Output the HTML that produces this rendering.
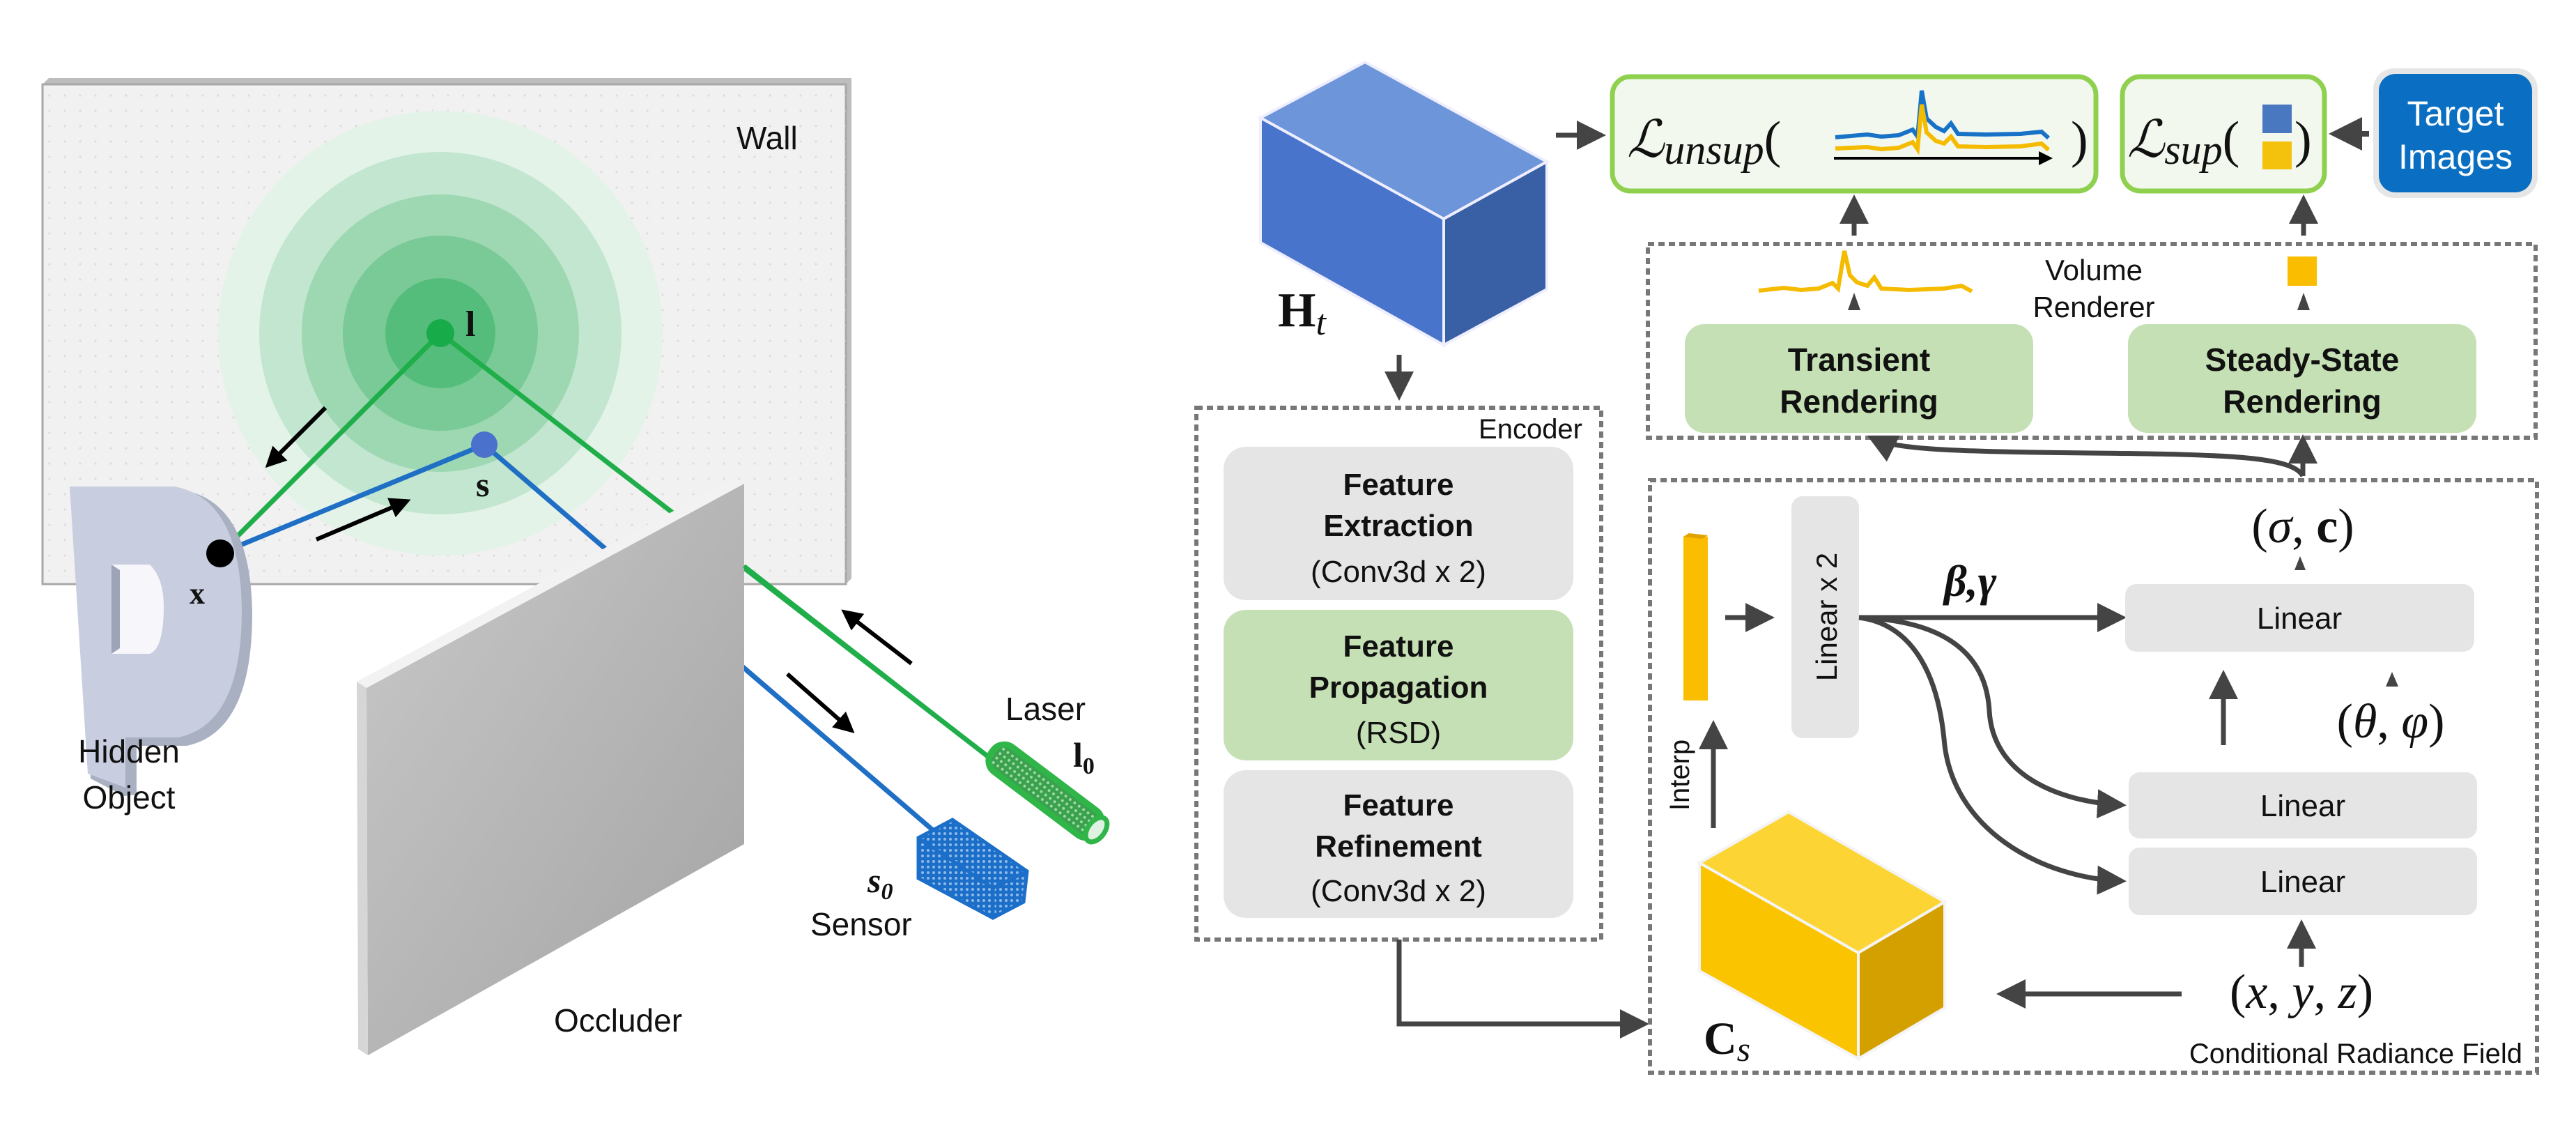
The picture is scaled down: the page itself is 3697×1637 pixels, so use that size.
<!DOCTYPE html>
<html><head><meta charset="utf-8"><style>
html,body{margin:0;padding:0;background:#fff}
svg{display:block}
.s{font-family:"Liberation Sans",sans-serif}
.m{font-family:"Liberation Serif","DejaVu Serif",serif;font-style:italic}
</style></head><body>
<svg width="3697" height="1637" viewBox="0 0 3697 1637" xmlns="http://www.w3.org/2000/svg">
<defs>
<marker id="ah" markerWidth="6" markerHeight="6" refX="5" refY="3" orient="auto" markerUnits="strokeWidth">
<path d="M0,0 L6,3 L0,6 z" fill="#444"/></marker>
<marker id="bh" markerWidth="5" markerHeight="5" refX="4" refY="2.5" orient="auto" markerUnits="strokeWidth">
<path d="M0,0 L5,2.5 L0,5 z" fill="#000"/></marker>
<pattern id="dots" width="22" height="22" patternUnits="userSpaceOnUse"><circle cx="5" cy="5" r="1.6" fill="#dcdcdc"/></pattern>
<pattern id="mesh" width="8" height="8" patternUnits="userSpaceOnUse"><rect width="8" height="8" fill="#3aa14c"/><circle cx="4" cy="4" r="2" fill="#9fd9a8"/></pattern>
<pattern id="meshb" width="8" height="8" patternUnits="userSpaceOnUse"><rect width="8" height="8" fill="#1c6fc9"/><circle cx="4" cy="4" r="2" fill="#8fb9e8"/></pattern>
<linearGradient id="occ" x1="0" y1="0" x2="1" y2="1"><stop offset="0" stop-color="#c9c9c9"/><stop offset="1" stop-color="#a3a3a3"/></linearGradient>
</defs>

<!-- ============ LEFT SCENE ============ -->
<polygon points="61,121 70,112 1222,112 1222,830 1214,838" fill="#bdbdbd"/>
<rect x="61" y="121" width="1153" height="717" fill="#f1f1f1" stroke="#a8a8a8" stroke-width="3"/>
<rect x="61" y="121" width="1153" height="717" fill="url(#dots)"/>
<text x="1057" y="214" class="s" font-size="46" fill="#111">Wall</text>
<circle cx="632" cy="478" r="319" fill="#e3f3e8"/>
<circle cx="632" cy="478" r="260" fill="#c2e6cf"/>
<circle cx="632" cy="478" r="199" fill="#9ed8b2"/>
<circle cx="632" cy="478" r="140" fill="#79ca96"/>
<circle cx="632" cy="478" r="79" fill="#55bd7b"/>
<line x1="632" y1="478" x2="316" y2="794" stroke="#1fae4a" stroke-width="7"/>
<line x1="632" y1="478" x2="1420" y2="1087" stroke="#1fae4a" stroke-width="7"/>
<line x1="316" y1="794" x2="695" y2="638" stroke="#1f6fc5" stroke-width="7"/>
<line x1="695" y1="638" x2="1340" y2="1192" stroke="#1f6fc5" stroke-width="7"/>
<circle cx="632" cy="478" r="20" fill="#17ab4a"/>
<circle cx="695" cy="638" r="19" fill="#4a72cc"/>
<text x="668" y="482" font-family="Liberation Serif,serif" font-weight="bold" font-size="52" fill="#111">l</text>
<text x="683" y="712" font-family="Liberation Serif,serif" font-weight="bold" font-size="50" fill="#111">s</text>
<line x1="467" y1="585" x2="385" y2="667" stroke="#000" stroke-width="6" marker-end="url(#bh)"/>
<line x1="454" y1="774" x2="584" y2="719" stroke="#000" stroke-width="6" marker-end="url(#bh)"/>
<path d="M105,703 L262,703 Q360,720 362,880 Q362,1050 268,1070 L196,1070 L196,1140 L178,1142 L130,1117 Z" fill="#a9b0c2"/>
<path d="M100,698 L250,698 Q345,715 347,875 Q347,1040 255,1058 L180,1058 L180,1130 L126,1110 Z" fill="#c8cee0"/>
<path d="M160,810 L215,810 Q235,830 235,870 Q235,930 215,938 L160,938 Z" fill="#f7f7fb"/>
<path d="M160,810 L172,818 L172,930 L160,938 Z" fill="#9da4b6"/>
<circle cx="316" cy="794" r="20" fill="#000"/>
<text x="272" y="866" font-family="Liberation Serif,serif" font-weight="bold" font-size="44" fill="#111">x</text>
<text x="185" y="1094" class="s" font-size="46" text-anchor="middle" fill="#111">Hidden</text>
<text x="185" y="1160" class="s" font-size="46" text-anchor="middle" fill="#111">Object</text>
<polygon points="526,987 1068,694 1068,1211 528,1514" fill="url(#occ)"/>
<polygon points="512,978 1054,686 1068,694 526,987" fill="#f2f2f2"/>
<polygon points="512,978 526,987 528,1514 514,1505" fill="#d6d6d6"/>
<text x="887" y="1480" class="s" font-size="46" text-anchor="middle" fill="#111">Occluder</text>
<line x1="1071" y1="962" x2="1340" y2="1192" stroke="#1f6fc5" stroke-width="6"/>
<line x1="1068" y1="812" x2="1420" y2="1087" stroke="#1fae4a" stroke-width="6"/>
<line x1="1308" y1="952" x2="1212" y2="878" stroke="#000" stroke-width="6" marker-end="url(#bh)"/>
<line x1="1130" y1="967" x2="1222" y2="1048" stroke="#000" stroke-width="6" marker-end="url(#bh)"/>
<g transform="translate(1500,1135) rotate(37)">
<rect x="-95" y="-22" width="190" height="44" rx="20" fill="url(#mesh)" stroke="#2fb548" stroke-width="9"/>
<ellipse cx="92" cy="0" rx="12" ry="20" fill="#dff2e2" stroke="#2fb548" stroke-width="7"/>
</g>
<text x="1443" y="1033" class="s" font-size="46" fill="#111">Laser</text>
<text x="1540" y="1100" font-family="Liberation Serif,serif" font-weight="bold" font-size="50" fill="#111">l<tspan font-size="34" dy="10">0</tspan></text>
<polygon points="1318,1202 1367,1176 1474,1250 1469,1294 1425,1317 1318,1260" fill="url(#meshb)" stroke="#1c6fc9" stroke-width="5"/>
<polyline points="1318,1202 1425,1274 1474,1250" fill="none" stroke="#1c6fc9" stroke-width="5"/>
<line x1="1425" y1="1274" x2="1425" y2="1317" stroke="#1c6fc9" stroke-width="5"/>
<text x="1245" y="1280" font-family="Liberation Serif,serif" font-style="italic" font-weight="bold" font-size="50" fill="#111">s<tspan font-size="34" dy="10">0</tspan></text>
<text x="1163" y="1342" class="s" font-size="46" fill="#111">Sensor</text>

<!-- ============ RIGHT PIPELINE ============ -->
<polygon points="1809,169 1959,89 2220,232 2072,314" fill="#6d95d9" stroke="#eef" stroke-width="4"/>
<polygon points="1809,169 2072,314 2072,495 1809,348" fill="#4874cb" stroke="#eef" stroke-width="4"/>
<polygon points="2072,314 2220,232 2220,415 2072,495" fill="#395fa5" stroke="#eef" stroke-width="4"/>
<text x="1834" y="468" font-family="Liberation Serif,serif" font-weight="bold" font-size="70" fill="#111">H<tspan font-style="italic" font-weight="normal" font-size="52" dy="12">t</tspan></text>
<line x1="2233" y1="194" x2="2298" y2="194" stroke="#444" stroke-width="7" marker-end="url(#ah)"/>
<line x1="2008" y1="509" x2="2008" y2="568" stroke="#444" stroke-width="7" marker-end="url(#ah)"/>

<rect x="2314" y="110" width="694" height="164" rx="26" fill="#f2f8ee" stroke="#8fd14f" stroke-width="7"/>
<text x="2335" y="225" class="m" font-size="74" fill="#111">ℒ<tspan font-size="60" dy="10">unsup</tspan><tspan dy="-10" font-style="normal" font-size="74">(</tspan></text>
<polyline points="2634,197 2680,193 2700,196 2725,194 2745,186 2752,196 2758,130 2765,170 2778,182 2790,188 2800,177 2810,192 2850,193 2900,192 2930,189 2940,198" fill="none" stroke="#1873c8" stroke-width="6"/>
<polyline points="2634,213 2680,211 2700,214 2725,212 2745,204 2752,214 2758,150 2765,190 2778,202 2790,206 2800,196 2810,210 2850,211 2900,210 2930,206 2940,215" fill="none" stroke="#f5bb00" stroke-width="6"/>
<line x1="2632" y1="227" x2="2942" y2="227" stroke="#000" stroke-width="4" marker-end="url(#bh)"/>
<text x="2972" y="225" font-family="Liberation Serif,serif" font-size="74" fill="#111">)</text>

<rect x="3046" y="110" width="290" height="164" rx="26" fill="#f2f8ee" stroke="#8fd14f" stroke-width="7"/>
<text x="3053" y="225" class="m" font-size="74" fill="#111">ℒ<tspan font-size="60" dy="10">sup</tspan><tspan dy="-10" font-style="normal" font-size="74">(</tspan></text>
<rect x="3247" y="150" width="42" height="41" fill="#4a78c0"/>
<rect x="3247" y="203" width="42" height="40" fill="#f4c20d"/>
<text x="3293" y="225" font-family="Liberation Serif,serif" font-size="74" fill="#111">)</text>

<rect x="3406" y="98" width="236" height="186" rx="30" fill="#e6e6e6"/>
<rect x="3414" y="106" width="220" height="170" rx="24" fill="#0a6fc2"/>
<text x="3524" y="180" class="s" font-size="50" text-anchor="middle" fill="#fff">Target</text>
<text x="3524" y="242" class="s" font-size="50" text-anchor="middle" fill="#fff">Images</text>
<line x1="3400" y1="192" x2="3350" y2="192" stroke="#444" stroke-width="8" marker-end="url(#ah)"/>

<rect x="2365" y="350" width="1274" height="278" fill="none" stroke="#777" stroke-width="6" stroke-dasharray="9 6"/>
<line x1="2661" y1="338" x2="2661" y2="286" stroke="#444" stroke-width="7" marker-end="url(#ah)"/>
<line x1="3306" y1="338" x2="3306" y2="286" stroke="#444" stroke-width="7" marker-end="url(#ah)"/>
<polyline points="2524,417 2560,413 2585,416 2610,414 2630,406 2638,414 2647,360 2655,395 2665,405 2680,410 2690,398 2700,414 2740,416 2790,414 2815,410 2830,418" fill="none" stroke="#f5bb00" stroke-width="6"/>
<polygon points="2661,420 2670,445 2652,445" fill="#444"/>
<rect x="3283" y="368" width="42" height="42" fill="#fbbd00"/>
<polygon points="3306,420 3315,445 3297,445" fill="#444"/>
<text x="3005" y="402" class="s" font-size="42" text-anchor="middle" fill="#111">Volume</text>
<text x="3005" y="455" class="s" font-size="42" text-anchor="middle" fill="#111">Renderer</text>
<rect x="2418" y="465" width="500" height="156" rx="28" fill="#c5e0b4"/>
<rect x="3054" y="465" width="500" height="156" rx="28" fill="#c5e0b4"/>
<text x="2668" y="532" class="s" font-weight="bold" font-size="46" text-anchor="middle" fill="#111">Transient</text>
<text x="2668" y="592" class="s" font-weight="bold" font-size="46" text-anchor="middle" fill="#111">Rendering</text>
<text x="3304" y="532" class="s" font-weight="bold" font-size="46" text-anchor="middle" fill="#111">Steady-State</text>
<text x="3304" y="592" class="s" font-weight="bold" font-size="46" text-anchor="middle" fill="#111">Rendering</text>

<path d="M3305,683 C3290,655 3200,652 3000,650 C2800,648 2720,645 2686,628" fill="none" stroke="#444" stroke-width="7" marker-end="url(#ah)"/>
<line x1="3305" y1="683" x2="3305" y2="630" stroke="#444" stroke-width="7" marker-end="url(#ah)"/>

<rect x="1717" y="585" width="581" height="763" fill="none" stroke="#777" stroke-width="6" stroke-dasharray="9 6"/>
<text x="2271" y="629" class="s" font-size="40" text-anchor="end" fill="#111">Encoder</text>
<rect x="1756" y="641" width="502" height="220" rx="32" fill="#e5e5e5"/>
<rect x="1756" y="875" width="502" height="216" rx="32" fill="#c5e0b4"/>
<rect x="1756" y="1105" width="502" height="212" rx="32" fill="#e5e5e5"/>
<g class="s" font-size="44" text-anchor="middle" fill="#111">
<text x="2007" y="710" font-weight="bold">Feature</text>
<text x="2007" y="769" font-weight="bold">Extraction</text>
<text x="2007" y="835">(Conv3d x 2)</text>
<text x="2007" y="942" font-weight="bold">Feature</text>
<text x="2007" y="1001" font-weight="bold">Propagation</text>
<text x="2007" y="1066">(RSD)</text>
<text x="2007" y="1170" font-weight="bold">Feature</text>
<text x="2007" y="1229" font-weight="bold">Refinement</text>
<text x="2007" y="1293">(Conv3d x 2)</text>
</g>
<polyline points="2008,1348 2008,1469 2360,1469" fill="none" stroke="#444" stroke-width="7" marker-end="url(#ah)"/>

<rect x="2368" y="689" width="1273" height="850" fill="none" stroke="#777" stroke-width="6" stroke-dasharray="9 6"/>
<text x="3620" y="1525" class="s" font-size="40" text-anchor="end" fill="#111">Conditional Radiance Field</text>
<polygon points="2416,770 2424,765 2451,770 2451,1005 2416,1005" fill="#fbbd00"/>
<polygon points="2416,770 2424,765 2451,768 2443,773" fill="#e0a400"/>
<line x1="2476" y1="886" x2="2540" y2="886" stroke="#444" stroke-width="7" marker-end="url(#ah)"/>
<rect x="2571" y="712" width="97" height="347" rx="16" fill="#e5e5e5"/>
<text transform="translate(2636,885) rotate(-90)" class="s" font-size="42" text-anchor="middle" fill="#111">Linear x 2</text>
<text x="2790" y="855" font-family="Liberation Serif,serif" font-style="italic" font-weight="bold" font-size="64" fill="#111">β,γ</text>
<line x1="2668" y1="886" x2="3045" y2="886" stroke="#444" stroke-width="7" marker-end="url(#ah)"/>
<path d="M2668,886 C2780,890 2850,930 2855,1020 C2860,1110 2950,1150 3045,1155" fill="none" stroke="#444" stroke-width="7" marker-end="url(#ah)"/>
<path d="M2668,886 C2740,895 2780,960 2790,1060 C2800,1190 2930,1260 3045,1264" fill="none" stroke="#444" stroke-width="7" marker-end="url(#ah)"/>
<rect x="3050" y="838" width="501" height="97" rx="16" fill="#e5e5e5"/>
<rect x="3055" y="1108" width="500" height="95" rx="16" fill="#e5e5e5"/>
<rect x="3055" y="1216" width="500" height="97" rx="16" fill="#e5e5e5"/>
<g class="s" font-size="44" text-anchor="middle" fill="#111">
<text x="3300" y="902">Linear</text>
<text x="3305" y="1171">Linear</text>
<text x="3305" y="1280">Linear</text>
</g>
<text x="3305" y="778" font-family="Liberation Serif,serif" font-size="70" text-anchor="middle" fill="#111">(<tspan font-style="italic">σ</tspan>, <tspan font-weight="bold">c</tspan>)</text>
<polygon points="3301,798 3309,818 3293,818" fill="#444"/>
<line x1="3191" y1="1069" x2="3191" y2="968" stroke="#444" stroke-width="7" marker-end="url(#ah)"/>
<polygon points="3433,964 3442,985 3424,985" fill="#444"/>
<text x="3431" y="1058" font-family="Liberation Serif,serif" font-size="70" text-anchor="middle" fill="#111">(<tspan font-style="italic">θ</tspan>, <tspan font-style="italic">φ</tspan>)</text>
<line x1="3303" y1="1387" x2="3303" y2="1326" stroke="#444" stroke-width="7" marker-end="url(#ah)"/>
<text x="3303" y="1446" font-family="Liberation Serif,serif" font-size="70" text-anchor="middle" fill="#111">(<tspan font-style="italic">x</tspan>, <tspan font-style="italic">y</tspan>, <tspan font-style="italic">z</tspan>)</text>
<line x1="3131" y1="1426" x2="2872" y2="1426" stroke="#444" stroke-width="7" marker-end="url(#ah)"/>
<polygon points="2439,1238 2567,1165 2791,1294 2667,1367" fill="#fcd535" stroke="#f4f4f4" stroke-width="4"/>
<polygon points="2439,1238 2667,1367 2667,1519 2439,1393" fill="#fbc400" stroke="#f4f4f4" stroke-width="4"/>
<polygon points="2667,1367 2791,1294 2791,1446 2667,1519" fill="#d3a000" stroke="#f4f4f4" stroke-width="4"/>
<text x="2445" y="1512" font-family="Liberation Serif,serif" font-weight="bold" font-size="66" fill="#111">C<tspan font-style="italic" font-weight="normal" font-size="50" dy="10">s</tspan></text>
<line x1="2459" y1="1188" x2="2459" y2="1040" stroke="#444" stroke-width="7" marker-end="url(#ah)"/>
<text transform="translate(2424,1112) rotate(-90)" class="s" font-size="40" text-anchor="middle" fill="#111">Interp</text>
</svg>
</body></html>
